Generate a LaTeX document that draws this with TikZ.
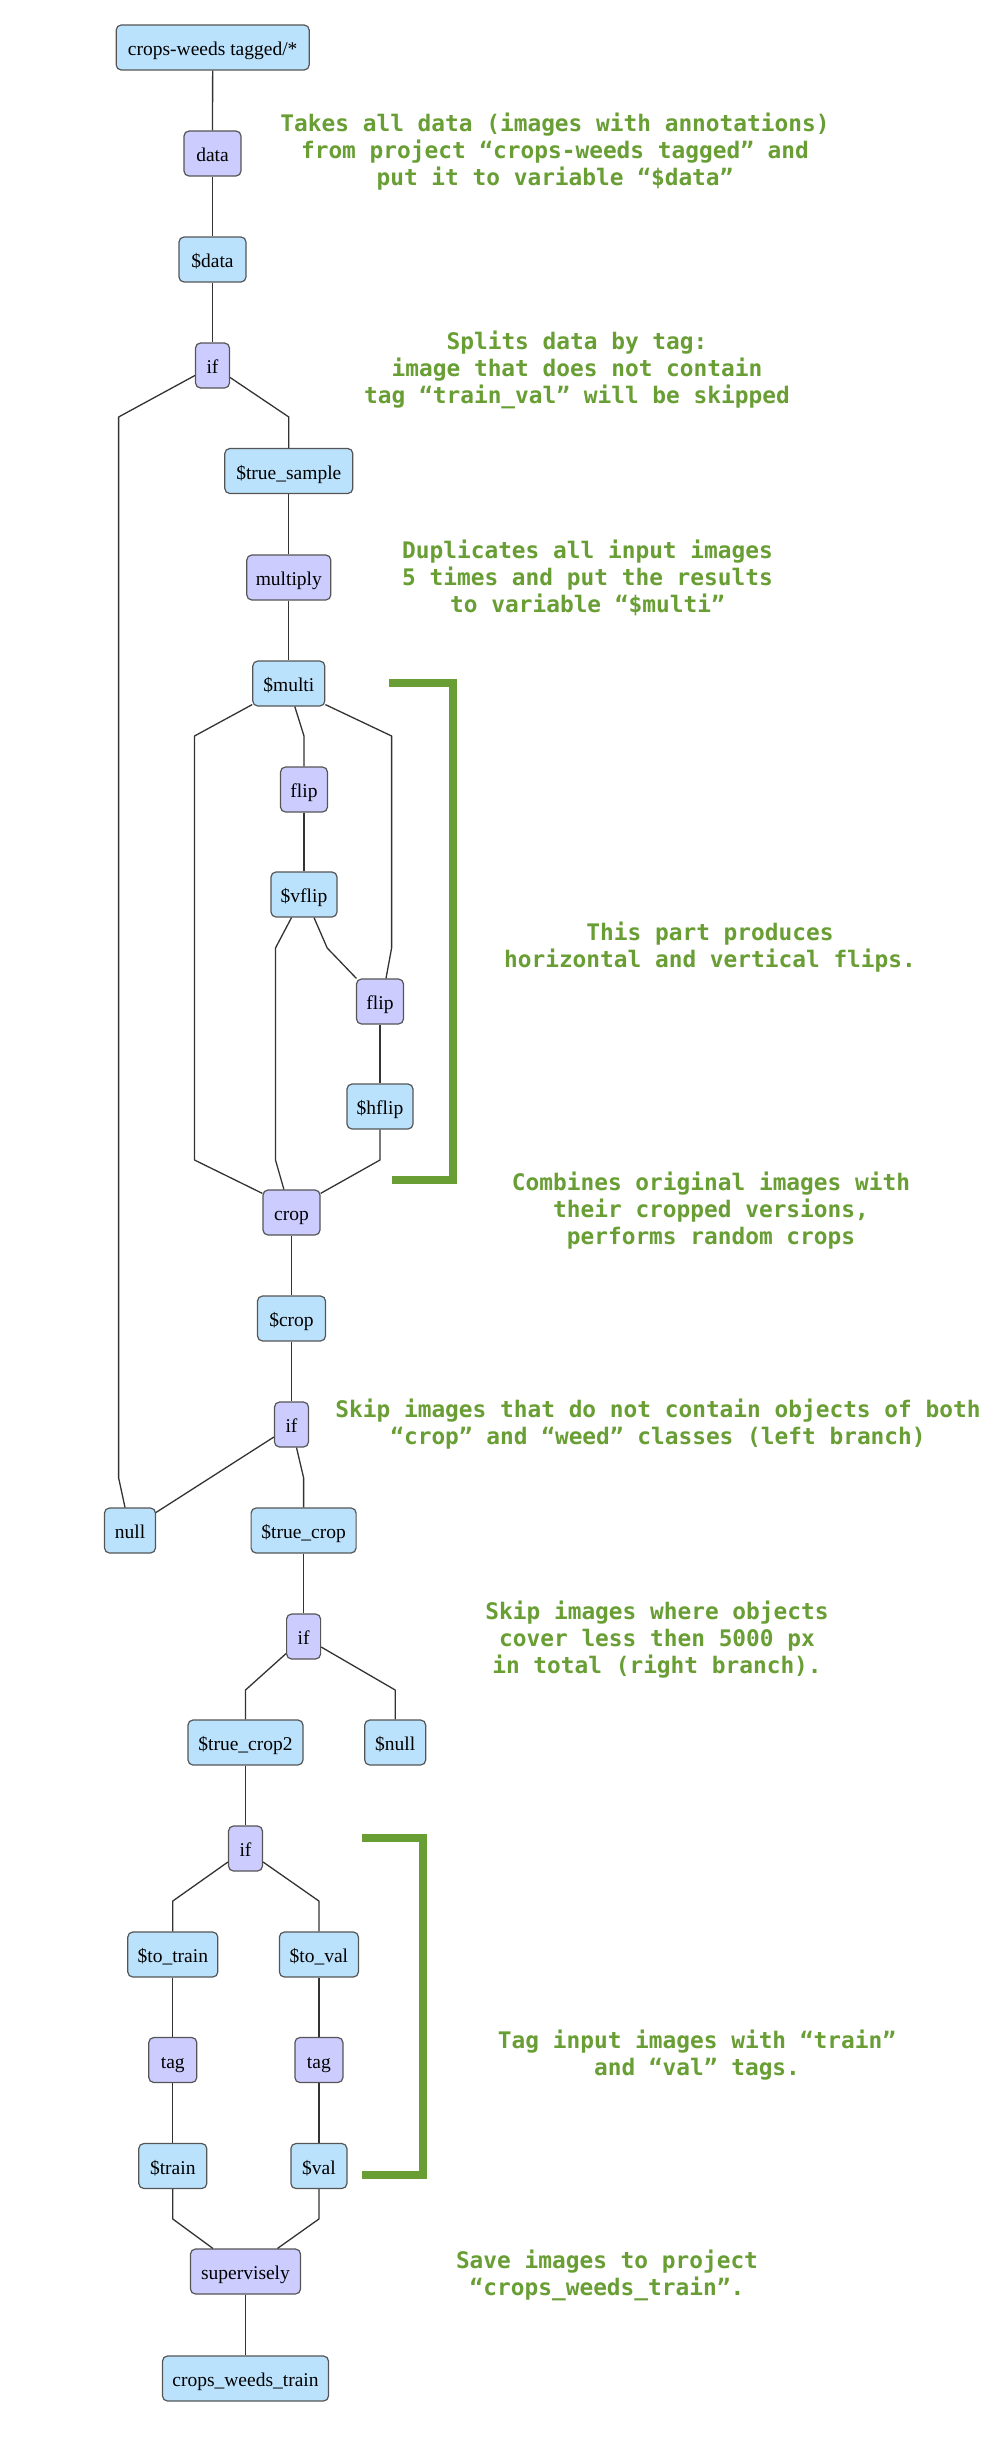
\documentclass[tikz,border=0pt]{standalone}
\usepackage{fontspec}
\setmainfont{Liberation Serif}
\newfontfamily\notefont{DejaVu Sans Mono}
\usetikzlibrary{calc}
\definecolor{nblue}{HTML}{BBE2FC}
\definecolor{npurple}{HTML}{CCCCFF}
\definecolor{nborder}{HTML}{555555}
\definecolor{edgec}{HTML}{333333}
\definecolor{notegreen}{RGB}{104,158,52}
\tikzset{
  basebox/.style={draw=nborder, line width=1.2pt, rounded corners=5pt, minimum height=45pt,
    inner sep=0pt, text height=18pt, text depth=2pt, font=\fontsize{19.5}{22}\selectfont},
  vbox/.style={basebox, fill=nblue},
  obox/.style={basebox, fill=npurple},
  edge/.style={draw=edgec, line width=1.3pt, line join=round},
  note/.style={text=notegreen, align=center, inner sep=0pt,
    font=\notefont\bfseries\fontsize{22.8}{27}\selectfont},
  bracket/.style={draw=notegreen, line width=8pt, line join=miter}
}
\begin{document}
\begin{tikzpicture}[x=1pt, y=-1pt]
\useasboundingbox (0,0) rectangle (1000,2443);
% nodes
\node[vbox, minimum width=193pt] (src) at (212.7,47.5) {crops-weeds tagged/*};
\node[obox, minimum width=57pt] (data) at (212.5,153.5) {data};
\node[vbox, minimum width=67pt] (vdata) at (212.5,259.5) {\$data};
\node[obox, minimum width=34pt] (if1) at (212.5,365.5) {if};
\node[vbox, minimum width=128pt] (ts) at (288.8,471) {\$true\_sample};
\node[obox, minimum width=84pt] (mult) at (288.8,577.5) {multiply};
\node[vbox, minimum width=72pt] (multi) at (288.8,683.5) {\$multi};
\node[obox, minimum width=47pt] (flip1) at (304,789.5) {flip};
\node[vbox, minimum width=66pt] (vflip) at (304,894.5) {\$vflip};
\node[obox, minimum width=47pt] (flip2) at (380,1001.5) {flip};
\node[vbox, minimum width=66pt] (hflip) at (380,1106.5) {\$hflip};
\node[obox, minimum width=57pt] (crop) at (291.5,1212.5) {crop};
\node[vbox, minimum width=68pt] (vcrop) at (291.5,1318.5) {\$crop};
\node[obox, minimum width=34pt] (if2) at (291.5,1424.5) {if};
\node[vbox, minimum width=51pt] (null) at (130,1530.5) {null};
\node[vbox, minimum width=105pt] (tc) at (303.6,1530.5) {\$true\_crop};
\node[obox, minimum width=34pt] (if3) at (303.6,1636.5) {if};
\node[vbox, minimum width=115pt] (tc2) at (245.5,1742.5) {\$true\_crop2};
\node[vbox, minimum width=61pt] (snull) at (395.2,1742.5) {\$null};
\node[obox, minimum width=34pt] (if4) at (245.5,1848.5) {if};
\node[vbox, minimum width=90pt] (totrain) at (172.8,1954.5) {\$to\_train};
\node[vbox, minimum width=79pt] (toval) at (318.9,1954.5) {\$to\_val};
\node[obox, minimum width=48pt] (tag1) at (172.8,2060) {tag};
\node[obox, minimum width=48pt] (tag2) at (318.9,2060) {tag};
\node[vbox, minimum width=68pt] (train) at (172.8,2166) {\$train};
\node[vbox, minimum width=56pt] (val) at (318.9,2166) {\$val};
\node[obox, minimum width=110pt] (sup) at (245.5,2271.5) {supervisely};
\node[vbox, minimum width=166pt] (cwt) at (245.5,2378.5) {crops\_weeds\_train};
% edges
\draw[edge] (src) -- (data);
\draw[edge] (data) -- (vdata);
\draw[edge] (vdata) -- (if1);
\draw[edge] ($(if1.west)+(0,10)$) -- (118.6,417) -- (118.6,1477.7) -- ($(null.north)+(-5,0)$);
\draw[edge] ($(if1.east)+(0,12)$) -- (288.8,417) -- (ts.north);
\draw[edge] (ts) -- (mult);
\draw[edge] (mult) -- (multi);
\draw[edge] ($(multi.south west)+(0,-2)$) -- (194.5,736) -- (194.5,1160) -- ($(crop.north west)+(0,4)$);
\draw[edge] ($(multi.south)+(6,0)$) -- (304,736) -- (flip1.north);
\draw[edge] ($(multi.south east)+(0,-2)$) -- (391.6,736) -- (391.6,948) -- ($(flip2.north)+(6,0)$);
\draw[edge] (flip1) -- (vflip);
\draw[edge] ($(vflip.south)+(-12.5,0)$) -- (275.5,948) -- (275.5,1160) -- ($(crop.north)+(-7.6,0)$);
\draw[edge] ($(vflip.south)+(10,0)$) -- (327.2,948) -- ($(flip2.north west)+(0.5,0)$);
\draw[edge] (flip2) -- (hflip);
\draw[edge] (hflip.south) -- (380,1160) -- ($(crop.north east)+(0,4)$);
\draw[edge] (crop) -- (vcrop);
\draw[edge] (vcrop) -- (if2);
\draw[edge] ($(if2.west)+(0,12.5)$) -- ($(null.north east)+(0,5)$);
\draw[edge] ($(if2.south)+(5,0)$) -- (303.6,1477.7) -- (tc.north);
\draw[edge] (tc) -- (if3);
\draw[edge] ($(if3.south west)+(0,-6)$) -- (245.5,1690) -- (tc2.north);
\draw[edge] ($(if3.east)+(0,10.5)$) -- (395.2,1690) -- (snull.north);
\draw[edge] (tc2) -- (if4);
\draw[edge] ($(if4.west)+(0,13.5)$) -- (172.8,1901) -- (totrain.north);
\draw[edge] ($(if4.east)+(0,13.5)$) -- (318.9,1901) -- (toval.north);
\draw[edge] (totrain) -- (tag1);
\draw[edge] (tag1) -- (train);
\draw[edge] (toval) -- (tag2);
\draw[edge] (tag2) -- (val);
\draw[edge] (train.south) -- (172.8,2219) -- ($(sup.north west)+(23,0)$);
\draw[edge] (val.south) -- (318.9,2219) -- ($(sup.north east)+(-23.6,0)$);
\draw[edge] (sup) -- (cwt);
% brackets
\draw[bracket] (389,683) -- (453,683) -- (453,1179.5) -- (392,1179.5);
\draw[bracket] (361.6,1838) -- (423,1838) -- (423,2175) -- (361.6,2175);
% notes
\node[note] (n1) at (555,152) {Takes all data (images with annotations)\\from project “crops-weeds tagged” and\\put it to variable “\$data”};
\node[note] (n2) at (577,370) {Splits data by tag:\\image that does not contain\\tag “train\_val” will be skipped};
\node[note] (n3) at (587.5,578) {Duplicates all input images\\5 times and put the results\\to variable “\$multi”};
\node[note] (n4) at (710,947.5) {This part produces\\horizontal and vertical flips.};
\node[note] (n5) at (711,1211) {Combines original images with\\their cropped versions,\\performs random crops};
\node[note] (n6) at (658,1424.5) {Skip images that do not contain objects of both\\“crop” and “weed” classes (left branch)};
\node[note] (n7) at (657,1640) {Skip images where objects\\cover less then 5000 px\\in total (right branch).};
\node[note] (n8) at (697,2055) {Tag input images with “train”\\and “val” tags.};
\node[note] (n9) at (607,2275) {Save images to project\\“crops\_weeds\_train”.};
\end{tikzpicture}
\end{document}
